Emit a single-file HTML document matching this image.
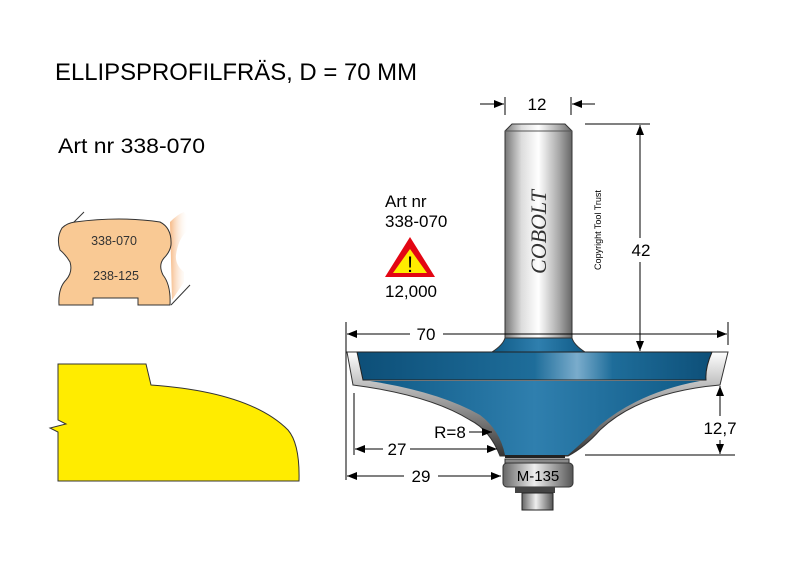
<!DOCTYPE html>
<html><head><meta charset="utf-8"><style>
html,body{margin:0;padding:0;background:#fff;width:800px;height:564px;overflow:hidden}
svg{display:block;font-family:"Liberation Sans",sans-serif}
</style></head><body>
<svg width="800" height="564" viewBox="0 0 800 564" xmlns="http://www.w3.org/2000/svg">
<defs>
<linearGradient id="shank" x1="0" x2="1" y1="0" y2="0">
<stop offset="0" stop-color="#777"/><stop offset="0.25" stop-color="#ddd"/><stop offset="0.5" stop-color="#fff"/><stop offset="0.8" stop-color="#aaa"/><stop offset="1" stop-color="#666"/>
</linearGradient>
<linearGradient id="blue" x1="0" x2="1" y1="0" y2="0">
<stop offset="0" stop-color="#0d4f78"/><stop offset="0.5" stop-color="#1e6d9a"/><stop offset="0.62" stop-color="#7aaccc"/><stop offset="0.72" stop-color="#1e6d9a"/><stop offset="1" stop-color="#0d4f78"/>
</linearGradient>
<linearGradient id="blue2" x1="0" x2="1" y1="0" y2="0">
<stop offset="0" stop-color="#0f5a86"/><stop offset="0.5" stop-color="#2f7fae"/><stop offset="1" stop-color="#0f5a86"/>
</linearGradient>
<linearGradient id="silv" x1="0" x2="0" y1="0" y2="1">
<stop offset="0" stop-color="#fff"/><stop offset="0.5" stop-color="#999"/><stop offset="1" stop-color="#333"/>
</linearGradient>
<linearGradient id="brg" x1="0" x2="1" y1="0" y2="0">
<stop offset="0" stop-color="#666"/><stop offset="0.45" stop-color="#eee"/><stop offset="1" stop-color="#555"/>
</linearGradient>
<linearGradient id="wood" x1="0" x2="1" y1="0" y2="0">
<stop offset="0" stop-color="#f4a868"/><stop offset="1" stop-color="#fff" stop-opacity="0"/>
</linearGradient>
<marker id="a" markerWidth="10" markerHeight="8" refX="10" refY="4" orient="auto" markerUnits="userSpaceOnUse"><path d="M0,0 L10,4 L0,8 z" fill="#000"/></marker>
</defs>

<text x="55" y="80" font-size="24" textLength="362" lengthAdjust="spacingAndGlyphs">ELLIPSPROFILFRÄS, D = 70 MM</text>
<text x="58" y="153" font-size="21" textLength="147" lengthAdjust="spacingAndGlyphs">Art nr 338-070</text>

<!-- wood profile -->
<path d="M170,222 Q178,214 184,212 Q192,222 186,232 Q178,240 176,255 Q175,265 184,272 L184,282 L172,300 Z" fill="url(#wood)" opacity="0.8"/>
<line x1="70" y1="226" x2="84" y2="212" stroke="#333"/>
<line x1="171" y1="305" x2="190" y2="285" stroke="#333"/>
<path d="M75,222 Q120,216 160,222 Q172,228 171,245 Q170,252 164,258 Q158,265 163,275 Q171,285 170,305 L138,305 L138,298 L93,298 L93,305 L59,305 Q58,288 66,280 Q73,272 70,262 Q66,255 60,250 Q56,238 62,228 Q67,223 75,222 Z" fill="#f9c994" stroke="#333" stroke-width="1"/>
<text x="114" y="245" font-size="12.5" text-anchor="middle" fill="#333">338-070</text>
<text x="116" y="280" font-size="12.5" text-anchor="middle" fill="#333">238-125</text>

<!-- yellow profile -->
<path d="M58,364 L146,364 L151,385 Q250,392 288,430 Q300,444 299,481 L58,481 L58,432 L50,428 L66,424 L58,420 Z" fill="#ffec00" stroke="#333" stroke-width="1"/>

<!-- shank -->
<path d="M505,131 L512,124 L565,124 L572,131 L572,340 L505,340 Z" fill="url(#shank)" stroke="#333" stroke-width="1"/>
<line x1="505" y1="131" x2="572" y2="131" stroke="#555"/>
<text transform="translate(546,232) rotate(-90)" font-family="Liberation Serif,serif" font-style="italic" font-size="22" text-anchor="middle" fill="#333">COBOLT</text>
<text transform="translate(601,230) rotate(-90)" font-size="9" text-anchor="middle" fill="#000">Copyright Tool Trust</text>

<!-- body silver outer -->
<path d="M347,352 L728,352 L720,385 Q640,392 600,430 Q585,447 568,456 L500,456 Q490,430 470,420 Q430,395 353,385 Z" fill="url(#silv)" stroke="#333"/>
<!-- blue -->
<path d="M492,352 Q503,345 505,338 L572,338 Q574,345 585,352 Z" fill="url(#blue2)" stroke="#333"/>
<path d="M357,352 L712,352 Q705,368 706,380 L363,380 Z" fill="url(#blue)" stroke="#222"/>
<path d="M370,381 L700,381 Q640,392 600,425 Q580,445 568,455 L505,455 Q500,430 480,415 Q440,392 370,381 Z" fill="url(#blue2)"/>
<rect x="505" y="455" width="60" height="3" fill="#222"/>
<!-- bearing -->
<rect x="505" y="459" width="64" height="4" fill="#888" stroke="#333"/>
<rect x="503" y="463" width="70" height="24" rx="4" fill="url(#brg)" stroke="#333"/>
<text x="538" y="481" font-size="15" text-anchor="middle">M-135</text>
<rect x="515" y="487" width="40" height="6" fill="#444"/>
<rect x="522" y="493" width="31" height="17" fill="url(#brg)" stroke="#222"/>

<!-- dims -->
<g stroke="#000" stroke-width="1" fill="none">
<line x1="505" y1="97" x2="505" y2="115"/><line x1="571" y1="97" x2="571" y2="115"/>
<line x1="480" y1="104" x2="504" y2="104" marker-end="url(#a)"/>
<line x1="595" y1="104" x2="572" y2="104" marker-end="url(#a)"/>
<line x1="585" y1="124" x2="650" y2="124"/>
<line x1="640" y1="238" x2="640" y2="125" marker-end="url(#a)"/>
<line x1="640" y1="262" x2="640" y2="351" marker-end="url(#a)"/>
<line x1="346" y1="322" x2="346" y2="480"/><line x1="728" y1="322" x2="728" y2="345"/>
<line x1="410" y1="334" x2="347" y2="334" marker-end="url(#a)"/>
<line x1="443" y1="334" x2="727" y2="334" marker-end="url(#a)"/>
<line x1="585" y1="455" x2="735" y2="455"/>
<line x1="720" y1="416" x2="720" y2="386" marker-end="url(#a)"/>
<line x1="720" y1="440" x2="720" y2="454" marker-end="url(#a)"/>
<line x1="354" y1="393" x2="354" y2="455"/>
<line x1="383" y1="449" x2="355" y2="449" marker-end="url(#a)"/>
<line x1="410" y1="449" x2="497" y2="449" marker-end="url(#a)"/>
<line x1="404" y1="476" x2="347" y2="476" marker-end="url(#a)"/>
<line x1="438" y1="476" x2="501" y2="476" marker-end="url(#a)"/>
<line x1="469" y1="432" x2="492" y2="432" marker-end="url(#a)"/>
</g>
<g font-size="17" text-anchor="middle">
<text x="537" y="110">12</text>
<text x="641" y="256">42</text>
<text x="426" y="340">70</text>
<text x="720" y="434">12,7</text>
<text x="397" y="455">27</text>
<text x="421" y="482">29</text>
<text x="450" y="438">R=8</text>
</g>
<text x="385" y="207" font-size="17">Art nr</text>
<text x="385" y="227" font-size="17">338-070</text>
<path d="M410,237 L435,277 L385,277 Z" fill="#e30613"/>
<path d="M410,249 L427,273 L393,273 Z" fill="#ffec00"/>
<text x="410" y="272" font-size="22" text-anchor="middle">!</text>
<text x="385" y="297" font-size="17">12,000</text>
</svg>
</body></html>
